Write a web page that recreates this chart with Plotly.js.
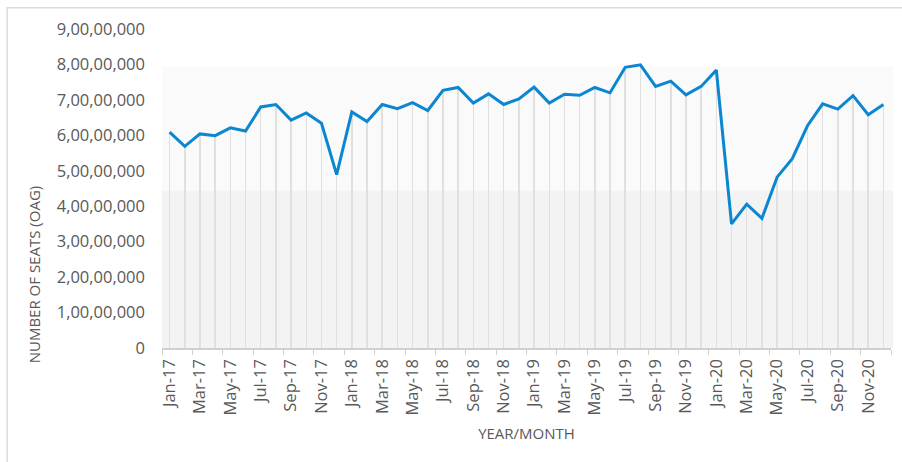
<!DOCTYPE html>
<html>
<head>
<meta charset="utf-8">
<script src="https://cdn.plot.ly/plotly-3.0.1.min.js"></script>
<style>html,body{margin:0;padding:0;background:#fff;}#chart{width:902px;height:462px;}</style>
</head>
<body>
<div id="chart"></div>
<script>
const months = [
  "Jan-17","Feb-17","Mar-17","Apr-17","May-17","Jun-17","Jul-17","Aug-17","Sep-17","Oct-17","Nov-17","Dec-17",
  "Jan-18","Feb-18","Mar-18","Apr-18","May-18","Jun-18","Jul-18","Aug-18","Sep-18","Oct-18","Nov-18","Dec-18",
  "Jan-19","Feb-19","Mar-19","Apr-19","May-19","Jun-19","Jul-19","Aug-19","Sep-19","Oct-19","Nov-19","Dec-19",
  "Jan-20","Feb-20","Mar-20","Apr-20","May-20","Jun-20","Jul-20","Aug-20","Sep-20","Oct-20","Nov-20","Dec-20"
];
const seats = [
  60900000,56900000,60400000,59900000,62100000,61200000,68000000,68700000,64300000,66300000,63400000,48900000,
  66600000,63900000,68700000,67500000,69200000,67000000,72700000,73500000,69100000,71700000,68700000,70300000,
  73600000,69100000,71600000,71300000,73500000,72000000,79200000,79900000,73800000,75300000,71400000,73800000,
  78400000,35000000,40600000,36600000,48200000,53400000,62700000,68900000,67400000,71200000,65800000,68700000
];
const yTickVals = [0,10000000,20000000,30000000,40000000,50000000,60000000,70000000,80000000,90000000];
const yTickText = ["0","1,00,00,000","2,00,00,000","3,00,00,000","4,00,00,000","5,00,00,000","6,00,00,000","7,00,00,000","8,00,00,000","9,00,00,000"];

const font = {family: "Open Sans, sans-serif", color: "#595959"};

const traces = [
  {
    type: "bar", x: months, y: seats, width: 0.1,
    marker: {color: "#e0e0e0", line: {width: 0}},
    hoverinfo: "skip", showlegend: false
  },
  {
    type: "scatter", mode: "lines", x: months, y: seats,
    line: {color: "#0b87d2", width: 3},
    showlegend: false
  }
];

const layout = {
  width: 902, height: 462,
  margin: {l: 162, r: 11, t: 29, b: 114},
  paper_bgcolor: "#ffffff", plot_bgcolor: "rgba(0,0,0,0)",
  font: font,
  showlegend: false,
  bargap: 0,
  xaxis: {
    type: "category", range: [-0.5, 47.5],
    categoryorder: "array", categoryarray: months,
    tickmode: "linear", dtick: 2, tickangle: -90,
    tickson: "boundaries", ticks: "outside", ticklen: 5, tickcolor: "#d0d0d0",
    showline: true, linecolor: "#d0d0d0", linewidth: 1.5,
    showgrid: false, zeroline: false,
    ticklabelstandoff: 3,
    tickfont: {size: 16.5, family: font.family, color: "#595959"},
    title: {text: "YEAR/MONTH", font: {size: 15, family: font.family, color: "#595959"}, standoff: 14}
  },
  yaxis: {
    range: [0, 90000000], tickmode: "array", tickvals: yTickVals, ticktext: yTickText,
    showgrid: false, zeroline: false, showline: false, ticks: "",
    ticklabelstandoff: 16,
    tickfont: {size: 16.5, family: font.family, color: "#595959"}
  },
  annotations: [
    {
      text: "NUMBER OF SEATS (OAG)", xref: "paper", yref: "paper",
      x: -0.176, y: 0.23, textangle: -90, showarrow: false,
      xanchor: "center", yanchor: "middle",
      font: {size: 15, family: font.family, color: "#595959"}
    }
  ],
  shapes: [
    {type: "rect", layer: "below", xref: "paper", yref: "y", x0: 0, x1: 1.003, y0: 0, y1: 79500000,
     fillcolor: "#fafafa", line: {width: 0}},
    {type: "rect", layer: "below", xref: "paper", yref: "y", x0: 0, x1: 1.003, y0: 0, y1: 44400000,
     fillcolor: "#f3f3f3", line: {width: 0}},
    {type: "rect", layer: "below", xref: "paper", yref: "paper", x0: -0.2124, x1: 1.05, y0: -0.4, y1: 1.0668,
     fillcolor: "rgba(0,0,0,0)", line: {color: "#dcdcdc", width: 1.5}}
  ]
};

Plotly.newPlot("chart", traces, layout, {displayModeBar: false, staticPlot: true});
</script>
</body>
</html>
